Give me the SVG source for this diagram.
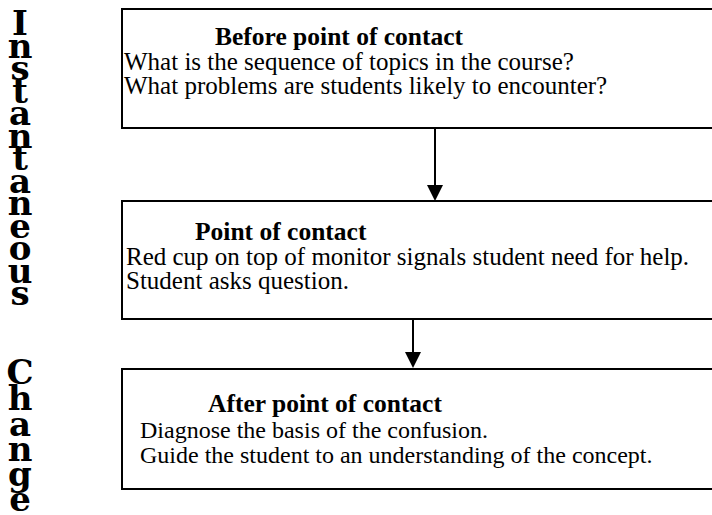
<svg xmlns="http://www.w3.org/2000/svg" width="712" height="515" viewBox="0 0 712 515">
<style>
.box{fill:#fff;stroke:#000;stroke-width:2}
.h{font-family:"Liberation Serif","Times New Roman",serif;font-weight:bold;font-size:25.5px;fill:#000}
.t{font-family:"Liberation Serif","Times New Roman",serif;font-size:25px;fill:#000}
.t3{font-family:"Liberation Serif","Times New Roman",serif;font-size:24px;fill:#000}
.v{font-family:"DejaVu Serif",serif;font-weight:bold;font-size:34px;fill:#000;text-anchor:middle}
.c{stroke:#000;stroke-width:2;fill:none}
.ah{fill:#000}
</style>
<g id="side-label">
<text class="v"><tspan x="20" y="35">I</tspan><tspan x="20" y="57.5">n</tspan><tspan x="20" y="80">s</tspan><tspan x="20" y="102.5">t</tspan><tspan x="20" y="125">a</tspan><tspan x="20" y="147.5">n</tspan><tspan x="20" y="170">t</tspan><tspan x="20" y="192.5">a</tspan><tspan x="20" y="215">n</tspan><tspan x="20" y="237.5">e</tspan><tspan x="20" y="260">o</tspan><tspan x="20" y="282.5">u</tspan><tspan x="20" y="305">s</tspan></text>
<text class="v"><tspan x="20" y="384">C</tspan><tspan x="20" y="410">h</tspan><tspan x="20" y="436">a</tspan><tspan x="20" y="461">n</tspan><tspan x="20" y="486">g</tspan><tspan x="20" y="511">e</tspan></text>
</g>
<g id="connectors">
<line class="c" x1="435" y1="128" x2="435" y2="186"/>
<path class="ah" d="M427,185 L443,185 L435,201 Z"/>
<line class="c" x1="413" y1="319" x2="413" y2="353"/>
<path class="ah" d="M405,352 L421,352 L413,368 Z"/>
</g>
<g id="before">
<rect class="box" x="122" y="9" width="600" height="119"/>
<text class="h" x="215" y="45">Before point of contact</text>
<text class="t" x="124" y="70">What is the sequence of topics in the course?</text>
<text class="t" x="124" y="94">What problems are students likely to encounter?</text>
</g>
<g id="point">
<rect class="box" x="122" y="201" width="600" height="118"/>
<text class="h" x="195" y="240">Point of contact</text>
<text class="t" x="126" y="265">Red cup on top of monitor signals student need for help.</text>
<text class="t" x="126" y="289">Student asks question.</text>
</g>
<g id="after">
<rect class="box" x="122" y="369" width="600" height="120"/>
<text class="h" x="208" y="412">After point of contact</text>
<text class="t3" x="140" y="438">Diagnose the basis of the confusion.</text>
<text class="t3" x="140" y="463">Guide the student to an understanding of the concept.</text>
</g>
</svg>
